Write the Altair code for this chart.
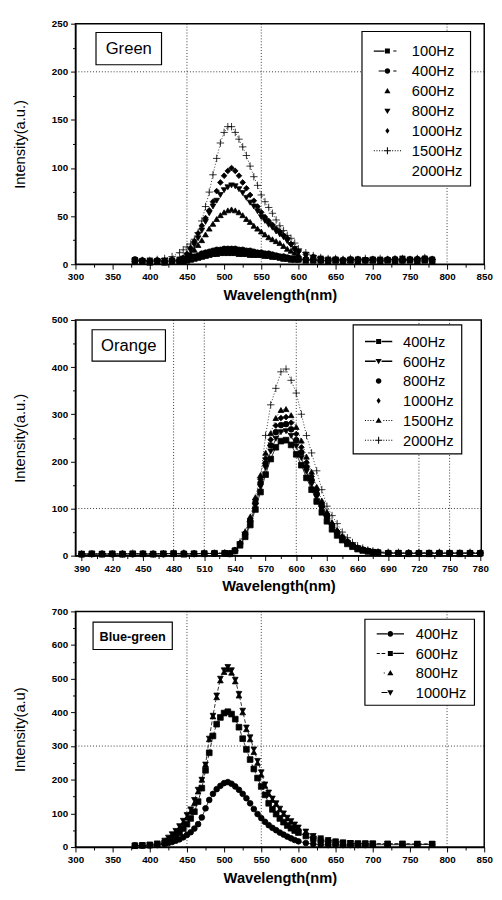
import altair as alt
import pandas as pd

# ---------------- Panel 1: Green ----------------
green_wl = [380, 390, 400, 410, 420, 430, 440,
            445, 450, 455, 460, 465, 470, 475, 480, 485, 490, 495, 500, 505, 510, 515, 520,
            525, 530, 535, 540, 545, 550, 555, 560, 565, 570, 575, 580, 585, 590, 595, 600,
            610, 620, 630, 640, 650, 660, 670, 680, 690, 700, 710, 720, 730, 740, 750, 760, 770, 780]
green_series = ["100Hz", "400Hz", "600Hz", "800Hz", "1000Hz", "1500Hz", "2000Hz"]
green_100 = [4, 3, 2, 3, 2, 3, 3,
             3, 4, 5, 6, 7, 8, 9, 10, 11, 11, 12, 12, 12, 12, 12, 11, 11, 11, 10, 10, 10, 10, 9, 9, 8, 8, 7, 6, 6, 5, 5, 5,
             4, 4, 4, 3, 4, 3, 4, 3, 4, 4, 3, 4, 3, 4, 4, 3, 4, 3]
green_400 = [5, 4, 3, 4, 3, 4, 4,
             4, 5, 6, 8, 9, 11, 12, 13, 14, 15, 15, 16, 16, 16, 16, 15, 15, 14, 14, 13, 12, 12, 11, 11, 10, 9, 8, 8, 7, 6, 6, 5,
             5, 5, 4, 4, 5, 4, 5, 5, 4, 5, 4, 5, 5, 4, 5, 5, 6, 5]
green_600 = [3, 4, 3, 3, 4, 4, 4,
             5, 7, 11, 15, 20, 25, 31, 37, 42, 47, 51, 54, 56, 57, 56, 54, 51, 47, 44, 40, 37, 34, 31, 28, 26, 24, 22, 19, 16, 14, 12, 10,
             8, 6, 5, 5, 4, 5, 4, 5, 5, 4, 5, 5, 4, 5, 5, 6, 5, 5]
green_800 = [3, 3, 4, 3, 4, 4, 5,
             6, 9, 14, 20, 27, 35, 44, 53, 60, 66, 72, 77, 80, 82, 81, 78, 74, 69, 64, 60, 55, 49, 45, 41, 38, 34, 31, 28, 24, 20, 16, 13,
             10, 7, 6, 5, 5, 4, 5, 5, 4, 5, 5, 4, 5, 6, 5, 5, 6, 5]
green_1000 = [3, 4, 3, 4, 4, 5, 5,
              7, 11, 17, 24, 32, 40, 48, 56, 65, 76, 85, 92, 97, 100, 97, 92, 85, 79, 72, 66, 60, 54, 49, 45, 41, 37, 34, 30, 27, 21, 16, 13,
              10, 8, 6, 5, 5, 5, 4, 5, 5, 5, 4, 5, 6, 5, 5, 6, 5, 5]
green_1500 = [3, 4, 4, 5, 6, 8, 12,
              15, 18, 21, 26, 33, 45, 60, 75, 93, 110, 126, 137, 143, 143, 137, 130, 122, 113, 102, 91, 82, 72, 65, 59, 53, 46, 40, 35, 30, 27, 22, 16,
              12, 9, 7, 6, 6, 5, 6, 5, 6, 5, 6, 5, 5, 6, 5, 6, 7, 5]
green_values = {"100Hz": green_100, "400Hz": green_400, "600Hz": green_600,
                "800Hz": green_800, "1000Hz": green_1000, "1500Hz": green_1500}
green_x_ticks = [300, 325, 350, 375, 400, 425, 450, 475, 500, 525, 550, 575, 600, 625, 650,
                 675, 700, 725, 750, 775, 800, 825, 850]
green_y_ticks = [0, 25, 50, 75, 100, 125, 150, 175, 200, 225, 250]
green_grid_x = [450, 550, 800]
green_grid_y = [200]

# ---------------- Panel 2: Orange ----------------
orange_wl = [390, 400, 410, 420, 430, 440, 450, 460, 470, 480, 490, 500, 510, 520, 530,
             535, 540, 545, 550, 555, 560, 565, 570, 575, 580, 585, 590, 595, 600, 605, 610,
             615, 620, 625, 630, 635, 640, 645, 650, 655, 660, 665, 670, 675, 680,
             690, 700, 710, 720, 730, 740, 750, 760, 770, 780]
orange_series = ["400Hz", "600Hz", "800Hz", "1000Hz", "1500Hz", "2000Hz"]
orange_400 = [3, 4, 3, 4, 3, 4, 4, 3, 4, 4, 3, 4, 4, 5, 5,
              4, 10, 22, 40, 65, 98, 135, 172, 205, 230, 243, 245, 235, 215, 192, 165, 140, 115, 92, 73, 56, 43, 33, 25, 19, 14, 11, 9, 7, 6,
              5, 5, 4, 5, 4, 5, 5, 4, 5, 5]
orange_600 = [4, 3, 4, 3, 4, 4, 3, 4, 4, 5, 4, 4, 5, 4, 5,
              4, 11, 24, 43, 70, 106, 146, 186, 221, 248, 262, 264, 254, 232, 207, 178, 151, 124, 99, 79, 60, 46, 36, 27, 20, 15, 12, 10, 8, 7,
              5, 6, 5, 5, 6, 5, 5, 6, 5, 5]
orange_800 = [3, 4, 4, 3, 4, 3, 4, 4, 3, 4, 5, 4, 4, 5, 5,
              5, 11, 25, 46, 74, 112, 154, 196, 234, 262, 277, 279, 268, 245, 219, 188, 160, 131, 105, 83, 64, 49, 38, 29, 22, 16, 13, 10, 8, 7,
              6, 5, 6, 5, 5, 6, 5, 5, 6, 5]
orange_1000 = [4, 4, 3, 4, 4, 3, 4, 3, 4, 4, 4, 5, 4, 5, 5,
               5, 12, 26, 48, 78, 118, 162, 206, 246, 276, 292, 294, 282, 258, 230, 198, 168, 138, 110, 88, 67, 52, 40, 30, 23, 17, 13, 11, 8, 7,
               6, 6, 5, 6, 5, 6, 6, 5, 6, 5]
orange_1500 = [3, 4, 4, 4, 3, 4, 4, 4, 5, 4, 4, 4, 5, 5, 6,
               5, 13, 28, 51, 83, 124, 171, 218, 260, 292, 309, 311, 298, 273, 244, 210, 178, 146, 117, 93, 71, 55, 42, 32, 24, 18, 14, 11, 9, 8,
               7, 6, 6, 7, 6, 6, 7, 6, 6, 6]
orange_2000 = [4, 3, 4, 4, 4, 5, 4, 4, 4, 5, 5, 4, 5, 5, 6,
               4, 10, 29, 50, 72, 110, 165, 255, 320, 355, 390, 396, 372, 345, 300, 255, 218, 180, 140, 105, 85, 68, 50, 38, 28, 21, 16, 12, 10, 8,
               7, 7, 6, 7, 6, 7, 7, 6, 7, 6]
orange_values = {"400Hz": orange_400, "600Hz": orange_600, "800Hz": orange_800,
                 "1000Hz": orange_1000, "1500Hz": orange_1500, "2000Hz": orange_2000}
orange_x_ticks = [390, 405, 420, 435, 450, 465, 480, 495, 510, 525, 540, 555, 570, 585, 600,
                  615, 630, 645, 660, 675, 690, 705, 720, 735, 750, 765, 780]
orange_y_ticks = [0, 50, 100, 150, 200, 250, 300, 350, 400, 450, 500]
orange_grid_x = [480, 510, 600, 720, 750]
orange_grid_y = [100]

# ---------------- Panel 3: Blue-green ----------------
bg_wl = [380, 390, 400, 410, 420,
         425, 430, 435, 440, 445, 450, 455, 460, 465, 470, 475, 480, 485, 490, 495, 500, 505, 510,
         515, 520, 525, 530, 535, 540, 545, 550, 555, 560, 565, 570, 575, 580, 585, 590, 595, 600,
         610, 620, 630, 640, 650, 660, 670, 680, 690, 700,
         720, 740, 760, 780]
bg_series = ["400Hz", "600Hz", "800Hz", "1000Hz"]
bg_400 = [5, 5, 5, 6, 9,
          12, 15, 19, 23, 29, 36, 44, 55, 68, 88, 115, 140, 158, 172, 182, 190, 193, 188, 180, 170, 158, 145, 130, 113, 98, 86, 75, 65, 57, 50, 43, 37, 31, 26, 21, 17,
          12, 9, 7, 6, 6, 6, 6, 6, 6, 7,
          7, 7, 7, 8]
bg_600 = [4, 5, 6, 8, 13,
          18, 25, 33, 43, 55, 68, 85, 105, 135, 175, 228, 280, 330, 365, 385, 398, 402, 395, 380, 356, 322, 290, 260, 232, 205, 180, 155, 130, 112, 98, 85, 74, 64, 56, 49, 43,
          33, 25, 20, 16, 14, 12, 11, 10, 10, 10,
          9, 9, 9, 9]
bg_800 = [4, 5, 7, 10, 18,
          26, 36, 46, 58, 72, 88, 105, 130, 165, 200, 245, 320, 388, 445, 495, 520, 528, 518, 492, 450, 400, 350, 320, 282, 250, 215, 182, 158, 140, 128, 112, 98, 85, 75, 65, 56,
          45, 32, 25, 20, 17, 14, 12, 11, 11, 10,
          10, 10, 9, 9]
bg_1000 = [4, 5, 7, 11, 19,
           28, 38, 48, 62, 78, 95, 112, 140, 170, 200, 245, 322, 390, 450, 500, 525, 535, 525, 497, 455, 405, 355, 326, 290, 256, 222, 186, 162, 144, 130, 114, 100, 87, 77, 67, 58,
           46, 33, 26, 21, 17, 14, 12, 11, 11, 10,
           10, 10, 9, 9]
bg_values = {"400Hz": bg_400, "600Hz": bg_600, "800Hz": bg_800, "1000Hz": bg_1000}
bg_x_ticks = green_x_ticks
bg_y_ticks = [0, 50, 100, 150, 200, 250, 300, 350, 400, 450, 500, 550, 600, 650, 700]
bg_grid_x = [450, 550, 800]
bg_grid_y = [300]

for wl, vals in ((green_wl, green_values), (orange_wl, orange_values), (bg_wl, bg_values)):
    for k, v in vals.items():
        assert len(v) == len(wl), (k, len(v), len(wl))

# ---------------- marker shapes ----------------
PLUS = "M-1.3,0H1.3M0,-1.3V1.3"


# legend key symbols: fill-only paths (1 unit = 15 px at size 900)
def seg(x0, x1, t=0.035):
    return f"M{x0},{-t}H{x1}V{t}H{x0}Z"


SQ = "M-0.17,-0.17H0.17V0.17H-0.17Z"
CI = "M-0.19,0A0.19,0.19 0 1,0 0.19,0A0.19,0.19 0 1,0 -0.19,0Z"
TU = "M0,-0.21L0.21,0.15H-0.21Z"
TD = "M0,0.21L0.21,-0.15H-0.21Z"
DI = "M0,-0.2L0.14,0L0,0.2L-0.14,0Z"
PL = seg(-0.24, 0.24) + "M-0.035,-0.24H0.035V0.24H-0.035Z"
L_SOLID = seg(-0.93, -0.2, 0.045)
R_SOLID = seg(0.2, 0.93, 0.045)
L_DOTS = seg(-0.93, -0.86) + seg(-0.75, -0.68) + seg(-0.57, -0.5) + seg(-0.39, -0.32)
R_DOTS = seg(0.32, 0.39) + seg(0.5, 0.57) + seg(0.68, 0.75) + seg(0.86, 0.93)
L_SHORT = seg(-0.6, -0.2)
R_DASH = seg(0.4, 0.62)
L_DASH = seg(-0.93, -0.72) + seg(-0.6, -0.35)
EMPTY = "M0,0"

FONT = "Liberation Sans"


def make_panel(name, wl, series, values, markers, line_styles, legend_paths,
               x_domain, x_ticks, major_test, y_domain, y_ticks, y_major, grid_x, grid_y,
               width, height, y_title, box, name_font, leg):
    rows = []
    for s in series:
        if s in values:
            for w, v in zip(wl, values[s]):
                rows.append({"wl": w, "I": v, "series": s})
    df = pd.DataFrame(rows)
    present = [s for s in series if s in values]

    x_enc = alt.X("wl:Q", scale=alt.Scale(domain=x_domain, nice=False, zero=False),
                  axis=alt.Axis(values=x_ticks, labelExpr=f"({major_test}) ? datum.label : ''",
                                tickSize={"condition": {"test": major_test, "value": 5}, "value": 3},
                                title="Wavelength(nm)", titleFontWeight="bold", titleFontSize=15,
                                titlePadding=6, labelPadding=3, labelOverlap=False, labelFlush=False))
    y_major_test = f"datum.value % {y_major} == 0"
    y_enc = alt.Y("I:Q", scale=alt.Scale(domain=y_domain, nice=False),
                  axis=alt.Axis(values=y_ticks, labelExpr=f"({y_major_test}) ? datum.label : ''",
                                tickSize={"condition": {"test": y_major_test, "value": 5}, "value": 3},
                                title=y_title, titleFontWeight="normal", titleFontSize=15,
                                titlePadding=24, labelPadding=3, labelOverlap=False, labelFlush=False))

    layers = []
    pts = alt.Chart(df).mark_point(filled=True, fill="black", stroke="black", strokeWidth=0.8,
                                   size=34, opacity=1).encode(
        x=x_enc, y=y_enc,
        shape=alt.Shape("series:N", scale=alt.Scale(domain=present, range=[markers[s] for s in present]),
                        legend=None))
    layers.append(pts)

    for s in present:
        dash = line_styles.get(s)
        if dash is None:
            continue
        kw = {"color": "black", "strokeWidth": 0.8}
        if dash:
            kw["strokeDash"] = dash
        layers.append(alt.Chart(df).transform_filter(alt.datum.series == s)
                      .mark_line(**kw).encode(x=x_enc, y=y_enc, detail="series:N"))

    gx = alt.Chart(pd.DataFrame({"wl": grid_x})).mark_rule(
        color="black", strokeWidth=0.8, strokeDash=[1, 2]).encode(x=x_enc)
    gy = alt.Chart(pd.DataFrame({"I": grid_y})).mark_rule(
        color="black", strokeWidth=0.8, strokeDash=[1, 2]).encode(y=y_enc)
    layers += [gx, gy]

    # name box
    bx0, by0, bx1, by1 = box
    box_df = pd.DataFrame({"t": [name]})
    layers.append(alt.Chart(box_df).mark_rect(fill="white", stroke="black", strokeWidth=1.2).encode(
        x=alt.value(bx0), x2=alt.value(bx1), y=alt.value(by0), y2=alt.value(by1)))
    layers.append(alt.Chart(box_df).mark_text(font=FONT, fontSize=name_font[0], fontWeight=name_font[1],
                                              align="center", baseline="middle", color="black").encode(
        x=alt.value((bx0 + bx1) / 2), y=alt.value((by0 + by1) / 2 + 1), text="t:N"))

    # legend box with keys
    (lx0, ly0, lx1, ly1), row0, dy, sx, tx = leg
    layers.append(alt.Chart(box_df).mark_rect(fill="white", stroke="black", strokeWidth=1.2).encode(
        x=alt.value(lx0), x2=alt.value(lx1), y=alt.value(ly0), y2=alt.value(ly1)))
    for i, (s, path) in enumerate(zip(series, legend_paths)):
        one = pd.DataFrame({"series": [s]})
        yy = row0 + i * dy
        if path != EMPTY:
            layers.append(alt.Chart(one).mark_point(shape=path, size=900, filled=True, fill="black",
                                                    strokeWidth=0, opacity=1).encode(
                x=alt.value(sx), y=alt.value(yy)))
        layers.append(alt.Chart(one).mark_text(font=FONT, fontSize=15, align="left", baseline="middle",
                                               color="black").encode(
            x=alt.value(tx), y=alt.value(yy + 0.5), text="series:N"))

    return alt.layer(*layers).properties(width=width, height=height)


p1 = make_panel(
    "Green", green_wl, green_series, green_values,
    {"100Hz": "square", "400Hz": "circle", "600Hz": "triangle-up", "800Hz": "triangle-down",
     "1000Hz": "diamond", "1500Hz": PLUS},
    {"100Hz": [], "400Hz": [], "1500Hz": [1, 2]},
    [L_SOLID + SQ + R_DASH, L_SHORT + CI + R_DASH, TU, TD, DI, L_DOTS + PL + R_DOTS, EMPTY],
    [300, 850], green_x_ticks, "datum.value % 50 == 0", [0, 250], green_y_ticks, 50,
    green_grid_x, green_grid_y, 418, 246, "Intensity(a.u.)", (21, 9, 88, 42), (17, "normal"),
    ((293, 8, 404, 166), 28, 20.4, 319, 344))

p2 = make_panel(
    "Orange", orange_wl, orange_series, orange_values,
    {"400Hz": "square", "600Hz": "triangle-down", "800Hz": "circle", "1000Hz": "diamond",
     "1500Hz": "triangle-up", "2000Hz": PLUS},
    {"400Hz": [], "600Hz": [], "1500Hz": [1, 2], "2000Hz": [1, 2]},
    [L_SOLID + SQ + R_SOLID, L_SOLID + TD + R_SOLID, CI, DI, L_DOTS + TU + R_DOTS, L_DOTS + PL + R_DOTS],
    [384, 781], orange_x_ticks, "(datum.value - 390) % 30 == 0", [0, 500], orange_y_ticks, 100,
    orange_grid_x, orange_grid_y, 415, 241, "Intensity(a.u.)", (17, 10, 92, 42), (17, "normal"),
    ((284, 5, 395, 137), 22, 20.2, 310, 335))

p3 = make_panel(
    "Blue-green", bg_wl, bg_series, bg_values,
    {"400Hz": "circle", "600Hz": "square", "800Hz": "triangle-up", "1000Hz": "triangle-down"},
    {"400Hz": [], "600Hz": [4, 2], "1000Hz": [4, 2]},
    [L_SOLID + CI + R_SOLID, L_DASH + SQ + R_SOLID, seg(-0.45, -0.38) + TU, L_SHORT + TD],
    [300, 850], bg_x_ticks, "datum.value % 50 == 0", [0, 700], bg_y_ticks, 100,
    bg_grid_x, bg_grid_y, 418, 241, "Intensity(a.u)", (18, 11, 99, 39), (13, "bold"),
    ((296, 8, 408, 96), 23, 20, 322, 348))

chart = alt.vconcat(p1, p2, p3, spacing=11).resolve_scale(shape="independent").configure(
    font=FONT, padding={"left": 4, "top": 0, "right": 0, "bottom": 0}, background="white"
).configure_view(stroke="black", strokeWidth=1.5).configure_axis(
    domainColor="black", domainWidth=1.2, tickColor="black", tickWidth=1,
    labelFont=FONT, labelFontWeight="bold", labelFontSize=10, labelColor="black",
    titleFont=FONT, titleColor="black", grid=False, labelOverlap=False)

chart.save("out.html", embed_options={"renderer": "svg", "actions": False})
